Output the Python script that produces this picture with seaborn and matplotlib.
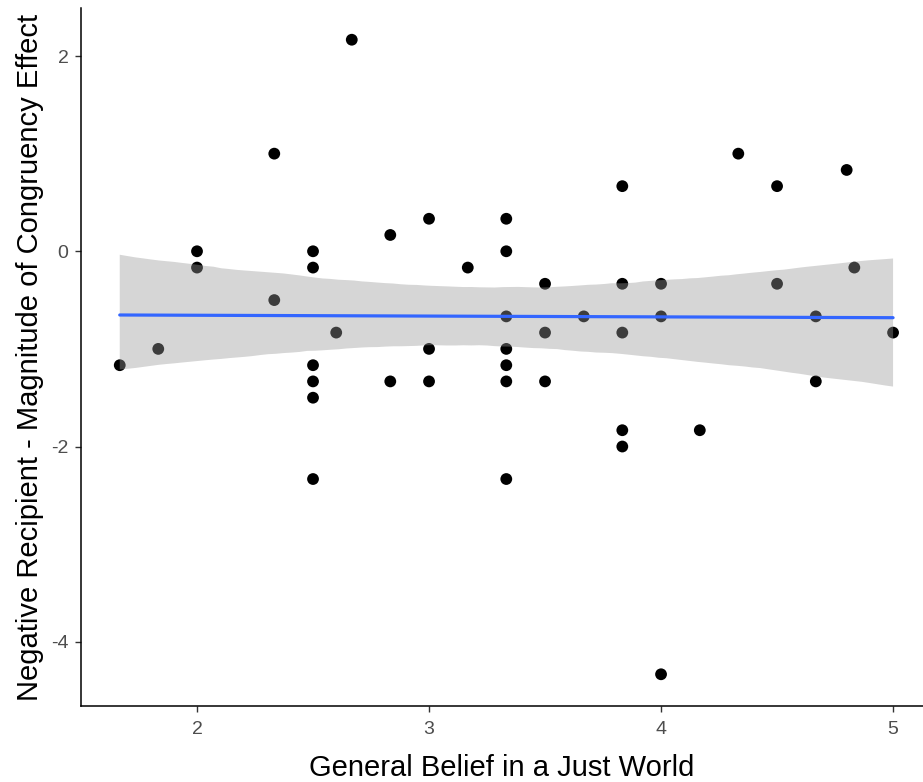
import matplotlib
matplotlib.use("Agg")
import matplotlib.pyplot as plt
import seaborn as sns
import pandas as pd

# ---- data ----
belief = [1.667, 1.833, 2.0, 2.0, 2.333, 2.333, 2.5, 2.5, 2.5, 2.5, 2.5, 2.5,
          2.6, 2.667, 2.833, 2.833, 3.0, 3.0, 3.0, 3.167, 3.333, 3.333, 3.333,
          3.333, 3.333, 3.333, 3.333, 3.5, 3.5, 3.5, 3.667, 3.833, 3.833, 3.833,
          3.833, 3.833, 4.0, 4.0, 4.0, 4.167, 4.333, 4.5, 4.5, 4.667, 4.667,
          4.8, 4.833, 5.0]
congruency = [-1.167, -1.0, 0.0, -0.167, 1.0, -0.5, 0.0, -0.167, -1.167, -1.333,
              -1.5, -2.333, -0.833, 2.167, 0.167, -1.333, 0.333, -1.0, -1.333,
              -0.167, 0.333, 0.0, -0.667, -1.0, -1.167, -1.333, -2.333, -0.333,
              -0.833, -1.333, -0.667, 0.667, -0.333, -0.833, -1.833, -2.0, -0.333,
              -0.667, -4.333, -1.833, 1.0, 0.667, -0.333, -0.667, -1.333, 0.833,
              -0.167, -0.833]
x_ticks = [2, 3, 4, 5]
y_ticks = [-4, -2, 0, 2]
x_label = "General Belief in a Just World"
y_label = "Negative Recipient - Magnitude of Congruency Effect"

df = pd.DataFrame({"x": belief, "y": congruency})

sns.set_theme(style="ticks")
plt.rcParams["font.family"] = ["Liberation Sans", "DejaVu Sans"]
plt.rcParams["axes.unicode_minus"] = False

W, H = 923, 782
fig = plt.figure(figsize=(W / 100, H / 100), dpi=100)
ax = fig.add_axes([81 / W, (H - 706) / H, (W - 81) / W, (706 - 8) / H])

sns.scatterplot(data=df, x="x", y="y", ax=ax, color="black", s=72,
                edgecolor="none", linewidth=0, zorder=1)
sns.regplot(data=df, x="x", y="y", ax=ax, scatter=False, ci=95, n_boot=2000,
            seed=1, color="#3366FF", line_kws={"linewidth": 2.3, "zorder": 3})
# ggplot-like band: grey60 with alpha 0.4, drawn above the points
band = ax.collections[-1]
band.set_alpha(0.4)
band.set_facecolor((0.6, 0.6, 0.6))
band.set_edgecolor("none")
band.set_zorder(2)

ax.set_xlim(1.5, 5.129)
ax.set_ylim(-4.658, 2.492)
ax.set_xticks(x_ticks)
ax.set_yticks(y_ticks)
ax.set_xlabel(x_label, fontsize=21, color="black", labelpad=11)
ax.set_ylabel(y_label, fontsize=21, color="black", labelpad=5)

for side in ["top", "right"]:
    ax.spines[side].set_visible(False)
for side in ["left", "bottom"]:
    ax.spines[side].set_color("black")
    ax.spines[side].set_linewidth(1.1)
ax.tick_params(axis="both", colors="#333333", labelcolor="#4D4D4D",
               labelsize=14, length=4, width=1, pad=5)
ax.tick_params(axis="x", pad=7)
ax.set_facecolor("white")
fig.patch.set_facecolor("white")

fig.savefig("out.png", dpi=100, facecolor="white")
